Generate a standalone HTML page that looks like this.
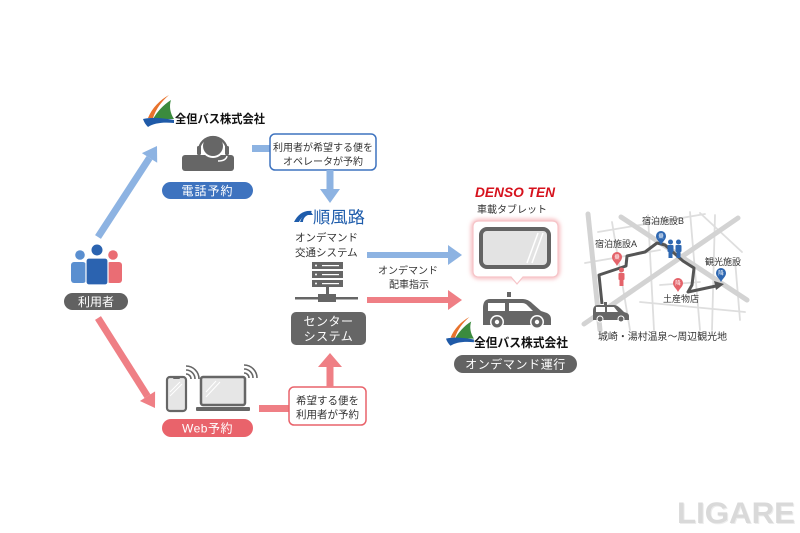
<!DOCTYPE html>
<html><head><meta charset="utf-8">
<style>
html,body{margin:0;padding:0;background:#fff;}
svg{display:block;}
text{font-family:"Liberation Sans","Noto Sans CJK JP",sans-serif;}
</style></head>
<body>
<svg width="800" height="533" viewBox="0 0 800 533" xmlns="http://www.w3.org/2000/svg">
<defs>
  <filter id="glow" x="-20%" y="-20%" width="140%" height="140%"><feGaussianBlur stdDeviation="2.2"/></filter>
  <g id="zlogo">
    <path d="M26,0 C17,5 9,13 5,23 L10,23 C13,14 18,7 26,0 Z" fill="#e8722c"/>
    <path d="M28,5 C20,10 14,17 10,24 L31,24 C27,18 26,11 28,5 Z" fill="#3b8b3e"/>
    <path d="M0,24 C9,22 20,23 31,25 L31,28 C20,27 11,28 5,32 C2.5,29.5 1,27 0,24 Z" fill="#1f5aa8"/>
  </g>
  <g id="pin">
    <path d="M0,9 C-2,5 -5,3.5 -5,0 A5,5 0 1,1 5,0 C5,3.5 2,5 0,9 Z"/>
  </g>
</defs>

<!-- ===== Left: users ===== -->
<circle cx="80" cy="255" r="4.8" fill="#5a8fd0"/>
<rect x="71" y="262" width="15" height="21" rx="3" fill="#5a8fd0"/>
<circle cx="113" cy="255" r="4.8" fill="#ea6d74"/>
<rect x="107" y="262" width="15" height="21" rx="3" fill="#ea6d74"/>
<circle cx="97" cy="250" r="6" fill="#2b63b0" stroke="#fff" stroke-width="1"/>
<rect x="86" y="258" width="22" height="27" rx="3" fill="#2b63b0" stroke="#fff" stroke-width="1.2"/>
<rect x="64" y="293" width="64" height="17" rx="8.5" fill="#616161"/>
<text x="96" y="306" font-size="12" fill="#fff" text-anchor="middle">利用者</text>

<!-- diagonal arrows -->
<line x1="98" y1="237" x2="149.5" y2="157.9" stroke="#8db3e2" stroke-width="7"/>
<polygon points="157,146 157.2,162.7 141.9,153.1" fill="#8db3e2"/>
<line x1="98" y1="318" x2="147.5" y2="396.2" stroke="#ef7f85" stroke-width="7"/>
<polygon points="155,408 155.1,391.4 139.9,401" fill="#ef7f85"/>

<!-- ===== Top: Zentan logo + phone reservation ===== -->
<use href="#zlogo" transform="translate(143,95)"/>
<text x="175" y="123" font-size="12" font-weight="bold" fill="#111" textLength="90" lengthAdjust="spacingAndGlyphs">全但バス株式会社</text>

<!-- operator icon -->
<rect x="182" y="155" width="52" height="16" rx="3" fill="#666"/>
<circle cx="213" cy="146" r="12" fill="#fff"/>
<circle cx="213" cy="146" r="10" fill="#666"/>
<path d="M199,151 A14,14 0 0,1 227,151" fill="none" stroke="#666" stroke-width="2.3"/>
<rect x="197" y="146" width="4" height="9" rx="1.5" fill="#666"/>
<rect x="225" y="146" width="4" height="9" rx="1.5" fill="#666"/>
<path d="M227,156 Q226,161 218,161" fill="none" stroke="#fff" stroke-width="1.5"/>

<rect x="162" y="182" width="91" height="17" rx="8.5" fill="#3e73bf"/>
<text x="207.5" y="195" font-size="12" fill="#fff" text-anchor="middle" letter-spacing="1">電話予約</text>

<!-- blue bar + box1 -->
<rect x="252" y="145" width="18" height="7" fill="#8db3e2"/>
<rect x="270" y="134" width="106" height="36" rx="5" fill="#fff" stroke="#3e73bf" stroke-width="1.5"/>
<text x="323" y="151" font-size="10" fill="#333" text-anchor="middle">利用者が希望する便を</text>
<text x="323" y="165" font-size="10" fill="#333" text-anchor="middle">オペレータが予約</text>

<!-- down arrow -->
<rect x="326.5" y="170" width="7" height="20" fill="#8db3e2"/>
<polygon points="320,189 340,189 330,203" fill="#8db3e2"/>

<!-- ===== Center system ===== -->
<path d="M294,222 C298,214 304,210 312,211 L309,214 C305,214 301,218 299,222 Z" fill="#1e5cab"/>
<path d="M300,222 C302,216 306,213 311,212 L313,215 L308,215 C305,216 303,219 303,222 Z" fill="#1e5cab"/>
<text x="313" y="223" font-size="16.5" fill="#1e5cab" textLength="52" lengthAdjust="spacingAndGlyphs">順風路</text>
<text x="295" y="241" font-size="10.5" fill="#333">オンデマンド</text>
<text x="295" y="256" font-size="10.5" fill="#333">交通システム</text>

<!-- server -->
<rect x="312" y="262" width="31" height="7" fill="#666"/>
<rect x="312" y="271" width="31" height="7" fill="#666"/>
<rect x="312" y="280" width="31" height="7" fill="#666"/>
<circle cx="316" cy="265.5" r="1" fill="#fff"/>
<circle cx="316" cy="274.5" r="1" fill="#fff"/>
<circle cx="316" cy="283.5" r="1" fill="#fff"/>
<rect x="322" y="265" width="17" height="1.2" fill="#fff"/>
<rect x="322" y="274" width="17" height="1.2" fill="#fff"/>
<rect x="322" y="283" width="17" height="1.2" fill="#fff"/>
<rect x="326" y="287" width="3" height="8" fill="#666"/>
<rect x="295" y="297" width="63" height="2.5" fill="#666"/>
<rect x="318" y="294" width="18" height="8" fill="#666"/>

<rect x="291" y="312" width="75" height="33" rx="5" fill="#666"/>
<text x="328.5" y="325.5" font-size="12" fill="#fff" text-anchor="middle" letter-spacing="0.5">センター</text>
<text x="328.5" y="340.5" font-size="12" fill="#fff" text-anchor="middle" letter-spacing="0.5">システム</text>

<!-- ===== Web reservation ===== -->
<rect x="167" y="377" width="19" height="34" rx="3" fill="#e6e6e6" stroke="#666" stroke-width="2.2"/>
<rect x="173" y="377" width="7" height="2" rx="1" fill="#666"/>
<line x1="170" y1="392" x2="180" y2="382" stroke="#fff" stroke-width="1"/>
<line x1="170" y1="396" x2="182" y2="384" stroke="#fff" stroke-width="1"/>
<rect x="201" y="377" width="44" height="28" rx="2" fill="#e6e6e6" stroke="#666" stroke-width="2.5"/>
<line x1="206" y1="392" x2="216" y2="381" stroke="#fff" stroke-width="1"/>
<line x1="206" y1="397" x2="220" y2="382" stroke="#fff" stroke-width="1"/>
<rect x="196" y="407" width="54" height="4" rx="1" fill="#666"/>
<g fill="none" stroke="#666" stroke-width="1.6">
  <path d="M186,374 A5,5 0 0,1 191,379"/>
  <path d="M186,370 A9,9 0 0,1 195,379"/>
  <path d="M186,366 A13,13 0 0,1 199,379"/>
  <path d="M244,373 A5,5 0 0,1 249,378"/>
  <path d="M244,369 A9,9 0 0,1 253,378"/>
  <path d="M244,365 A13,13 0 0,1 257,378"/>
</g>
<rect x="162" y="419" width="91" height="18" rx="9" fill="#e9636b"/>
<text x="207.5" y="432.5" font-size="12" fill="#fff" text-anchor="middle" letter-spacing="0.5">Web予約</text>

<!-- pink bar + box2 -->
<rect x="259" y="405" width="30" height="7" fill="#ef7f85"/>
<rect x="289" y="387" width="77" height="38" rx="5" fill="#fff" stroke="#e9636b" stroke-width="1.5"/>
<text x="327.5" y="404" font-size="10.5" fill="#333" text-anchor="middle">希望する便を</text>
<text x="327.5" y="418" font-size="10.5" fill="#333" text-anchor="middle">利用者が予約</text>

<!-- up arrow -->
<rect x="326.5" y="365" width="7" height="22" fill="#ef7f85"/>
<polygon points="318,367 342,367 330,353" fill="#ef7f85"/>

<!-- ===== Horizontal arrows ===== -->
<rect x="367" y="252" width="83" height="6" fill="#8db3e2"/>
<polygon points="448,245 462,255 448,265" fill="#8db3e2"/>
<rect x="367" y="297" width="83" height="6" fill="#ef7f85"/>
<polygon points="448,290 462,300 448,310" fill="#ef7f85"/>
<text x="408" y="274" font-size="10" fill="#333" text-anchor="middle">オンデマンド</text>
<text x="409" y="288" font-size="10" fill="#333" text-anchor="middle">配車指示</text>

<!-- ===== DENSO TEN tablet ===== -->
<text x="475" y="197" font-size="14" font-weight="bold" font-style="italic" fill="#d6111c" textLength="80" lengthAdjust="spacingAndGlyphs">DENSO TEN</text>
<text x="512" y="213" font-size="10" fill="#333" text-anchor="middle">車載タブレット</text>

<rect x="473" y="221" width="85" height="56" rx="6" fill="none" stroke="#f4a9ae" stroke-width="3.5" filter="url(#glow)"/>
<path d="M479,221 L552,221 Q558,221 558,227 L558,271 Q558,277 552,277 L523,277 L517,284 L511,277 L479,277 Q473,277 473,271 L473,227 Q473,221 479,221 Z" fill="#fff" stroke="#f6c4c8" stroke-width="1.2"/>
<rect x="481" y="229" width="68" height="38" rx="6" fill="#e3e3e3" stroke="#646464" stroke-width="4"/>
<line x1="538" y1="233" x2="527" y2="263" stroke="#fff" stroke-width="1.5"/>
<line x1="543" y1="233" x2="532" y2="263" stroke="#fff" stroke-width="1.5"/>

<!-- car -->
<rect x="507" y="292" width="4" height="5" fill="#666"/>
<path d="M483,308 Q483,299 490,299 L523,299 Q528,299 533,304 L541,311 L547,313 Q551,315 551,319 L551,325 L483,325 Z" fill="#666"/>
<path d="M488,303 L505,303 L505,311 L488,311 Z" fill="#fff"/>
<path d="M509,303 L522,303 Q525,303 527,305 L533,311 L509,311 Z" fill="#fff"/>
<circle cx="497" cy="322" r="7" fill="#fff"/><circle cx="497" cy="322" r="5.5" fill="#666"/><circle cx="497" cy="322" r="2.2" fill="#fff"/>
<circle cx="537" cy="322" r="7" fill="#fff"/><circle cx="537" cy="322" r="5.5" fill="#666"/><circle cx="537" cy="322" r="2.2" fill="#fff"/>

<use href="#zlogo" transform="translate(446,317) scale(0.9)"/>
<text x="474" y="347" font-size="12.5" font-weight="bold" fill="#111" textLength="94" lengthAdjust="spacingAndGlyphs">全但バス株式会社</text>
<rect x="454" y="355" width="123" height="18" rx="9" fill="#636363"/>
<text x="515.5" y="368.5" font-size="12" fill="#fff" text-anchor="middle" letter-spacing="0.6">オンデマンド運行</text>

<!-- ===== Map ===== -->
<g stroke-linecap="round" fill="none">
  <g stroke="#dedede" stroke-width="1.8">
    <line x1="585" y1="263" x2="660" y2="250"/>
    <line x1="612" y1="222" x2="630" y2="330"/>
    <line x1="648" y1="215" x2="654" y2="330"/>
    <line x1="690" y1="212" x2="700" y2="330"/>
    <line x1="700" y1="213" x2="742" y2="252"/>
    <line x1="640" y1="302" x2="745" y2="312"/>
    <line x1="598" y1="232" x2="705" y2="214"/>
    <line x1="715" y1="215" x2="712" y2="330"/>
    <line x1="660" y1="285" x2="700" y2="282"/>
    <line x1="735" y1="260" x2="740" y2="320"/>
  </g>
  <g stroke="#d3d3d3" stroke-width="5">
    <line x1="588" y1="214" x2="600" y2="330"/>
    <line x1="621" y1="217" x2="747" y2="300"/>
    <line x1="584" y1="324" x2="738" y2="218"/>
  </g>
</g>
<polyline points="602,304 599,275 617,269 626,266 627,256 645,252 657,243 665,245 683,261 694,268 692,285 688,292 716,286" fill="none" stroke="#555" stroke-width="3" stroke-linejoin="round"/>
<polygon points="724,284 714,281 716,290" fill="#555"/>

<g fill="#2e67b1">
  <circle cx="670.5" cy="242" r="2.5"/><rect x="667.5" y="245" width="6" height="7" rx="1"/><rect x="668.5" y="251" width="4" height="7"/>
  <circle cx="678.5" cy="242" r="2.5"/><rect x="675.5" y="245" width="6" height="7" rx="1"/><rect x="676.5" y="251" width="4" height="7"/>
</g>
<g fill="#e4636a">
  <circle cx="621.5" cy="270" r="2.5"/><rect x="618.5" y="273" width="6" height="7" rx="1"/><rect x="619.5" y="279" width="4" height="7"/>
</g>
<use href="#pin" transform="translate(661,236)" fill="#2e67b1"/>
<use href="#pin" transform="translate(617,257)" fill="#e4636a"/>
<use href="#pin" transform="translate(721,273)" fill="#2e67b1"/>
<use href="#pin" transform="translate(678,283)" fill="#e4636a"/>
<g font-size="5.5" fill="#fff" text-anchor="middle">
  <text x="661" y="238">乗</text><text x="617" y="259">乗</text>
  <text x="721" y="275">降</text><text x="678" y="285">降</text>
</g>
<g>
  <rect x="604" y="302" width="3" height="3" fill="#666"/>
  <path d="M593,311 Q593,305 598,305 L614,305 Q617,305 620,308 L624,312 L627,313 Q629,314 629,316 L629,320 L593,320 Z" fill="#666"/>
  <path d="M596,307 L605,307 L605,312 L596,312 Z M607,307 L614,307 L618,312 L607,312 Z" fill="#fff"/>
  <circle cx="600" cy="319" r="3.5" fill="#fff"/><circle cx="600" cy="319" r="2.5" fill="#666"/>
  <circle cx="621" cy="319" r="3.5" fill="#fff"/><circle cx="621" cy="319" r="2.5" fill="#666"/>
</g>
<g font-size="9" fill="#333">
  <text x="642" y="224">宿泊施設B</text>
  <text x="595" y="247">宿泊施設A</text>
  <text x="705" y="265">観光施設</text>
  <text x="663" y="302">土産物店</text>
</g>
<text x="598" y="340" font-size="10" fill="#333" textLength="129" lengthAdjust="spacingAndGlyphs">城崎・湯村温泉～周辺観光地</text>

<!-- LIGARE watermark -->
<text x="678" y="524" font-size="30" font-weight="bold" fill="#ececec" textLength="118" lengthAdjust="spacingAndGlyphs">LIGARE</text>
<text x="677" y="523" font-size="30" font-weight="bold" fill="#d9d9d9" textLength="118" lengthAdjust="spacingAndGlyphs">LIGARE</text>
</svg>
</body></html>
